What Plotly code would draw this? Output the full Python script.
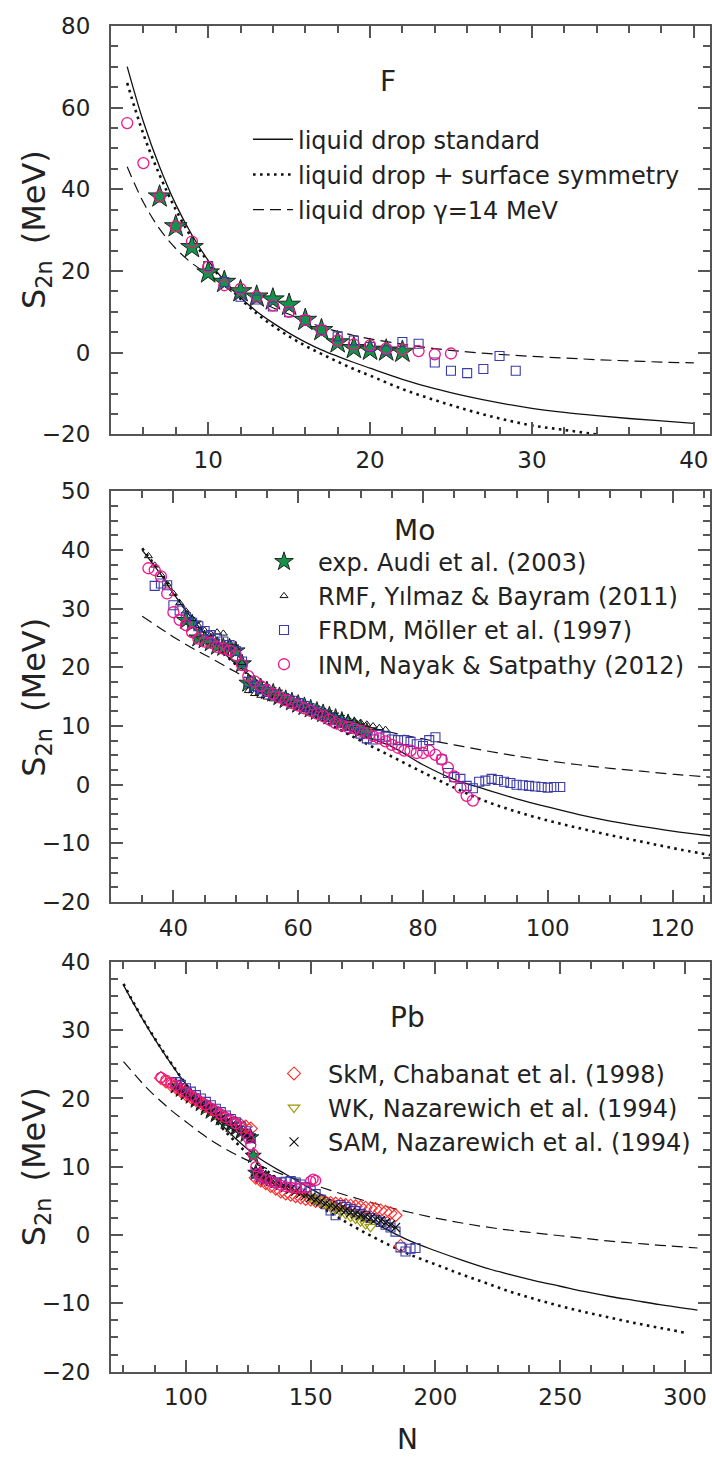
import plotly.graph_objects as go

# ---------------- data: panel F ----------------
F_N_line = [5, 6, 7, 8, 9, 10, 11, 12, 13, 14, 15, 16, 17, 18, 19, 20, 22, 24, 26, 28, 30, 32, 34, 36, 38, 40]
F_solid = [70, 56.5, 45.5, 36.3, 28.8, 22.6, 17.6, 13.5, 10.1, 7.3, 4.8, 2.6, 0.7, -0.9, -2.4, -3.8,
           -6.5, -8.8, -10.7, -12.3, -13.6, -14.6, -15.4, -16.1, -16.7, -17.3]
F_N_dot = [5, 6, 7, 8, 9, 10, 11, 12, 13, 14, 15, 16, 17, 18, 19, 20, 22, 24, 26, 28, 30, 32, 34]
F_dot = [66, 53.5, 43.5, 35, 28, 22.2, 17.3, 13.2, 9.6, 6.6, 4.0, 1.7, -0.3, -2.2, -4.0, -5.6,
         -8.9, -11.6, -14.0, -16.1, -17.8, -18.9, -20.0]
F_dash = [45.5, 36.8, 30.3, 25.5, 21.9, 19.2, 16.8, 14.7, 12.8, 11.0, 9.4, 7.8, 6.3, 5.2, 4.2, 3.4,
          2.1, 1.0, 0.2, -0.4, -0.9, -1.3, -1.7, -2.0, -2.3, -2.5]
F_exp_N = [7, 8, 9, 10, 11, 12, 13, 14, 15, 16, 17, 18, 19, 20, 21, 22]
F_exp = [38.2, 30.9, 25.8, 19.6, 17.3, 15.0, 13.7, 13.0, 11.7, 8.0, 5.5, 2.5, 1.1, 0.7, 0.5, 0.2]
F_frdm_N = [10, 11, 12, 13, 14, 15, 16, 17, 18, 19, 20, 21, 22, 23, 24, 25, 26, 27, 28, 29]
F_frdm = [21.2, 17.3, 13.7, 13.0, 11.3, 9.9, 8.0, 5.6, 4.0, 3.0, 1.4, 0.6, 2.6, 2.2, -2.4, -4.4, -5.0, -4.0, -0.8, -4.4]
F_inm_N = [5, 6, 7, 8, 9, 10, 11, 12, 13, 14, 15, 16, 17, 18, 19, 20, 21, 22, 23, 24, 25]
F_inm = [56.2, 46.4, 38.2, 30.9, 27.2, 21.0, 16.5, 15.6, 13.7, 11.6, 10.0, 8.0, 5.5, 3.0, 2.0, 1.8, 1.0, 0.8, 0.4, -0.4, -0.2]

# ---------------- data: panel Mo ----------------
Mo_N_line = [35, 38, 40, 43, 46, 50, 55, 60, 65, 70, 75, 80, 85, 90, 95, 100, 105, 110, 115, 120, 126]
Mo_solid = [40.0, 35.8, 32.6, 28.3, 24.6, 20.6, 16.4, 13.3, 10.8, 8.5, 6.5, 3.4, 0.9, -0.8, -2.4, -3.8,
            -5.1, -6.2, -7.1, -7.9, -8.7]
Mo_dot = [40.3, 36.0, 32.8, 28.4, 24.6, 20.5, 16.4, 13.1, 10.3, 7.5, 4.8, 2.1, -0.5, -2.8, -4.6, -6.1,
          -7.4, -8.6, -9.7, -10.8, -12.0]
Mo_dash = [28.7, 26.6, 25.2, 23.3, 21.6, 19.2, 16.3, 13.9, 11.9, 10.2, 8.9, 7.8, 6.8, 5.8, 4.9, 4.1,
           3.4, 2.8, 2.3, 1.8, 1.3]
Mo_exp_N = list(range(42, 72))
Mo_exp = [28.0, 27.4, 25.0, 24.7, 24.2, 23.6, 23.4, 23.3, 22.8, 20.6, 17.3, 17.0, 16.5, 16.0, 15.6,
          15.0, 14.5, 14.1, 13.7, 13.3, 12.9, 12.5, 12.1, 11.7, 11.3, 10.8, 10.4, 9.9, 9.4, 8.9]
Mo_rmf_N = list(range(36, 75))
Mo_rmf = [39.0, 37.4, 35.8, 34.2, 32.6, 31.0, 29.6, 28.3, 27.1, 26.3, 25.7, 26.0, 25.8, 24.2, 23.3,
          20.8, 16.0, 15.5, 15.2, 14.9, 14.6, 14.3, 14.0, 13.7, 13.4, 13.1, 12.8, 12.5, 12.2, 12.0,
          11.7, 11.4, 11.2, 10.9, 10.6, 10.3, 10.0, 9.7, 9.4]
Mo_frdm_N = list(range(37, 103))
Mo_frdm = [33.9, 34.3, 34.0, 30.6, 29.7, 28.6, 27.6, 27.0, 26.2, 25.5, 24.9, 24.4, 23.8, 22.8, 21.0,
           17.5, 16.8, 16.3, 15.8, 15.4, 15.0, 14.6, 14.3, 13.9, 13.4, 13.0, 12.5, 12.0, 11.5, 11.0,
           10.5, 10.0, 9.5, 8.7, 7.9, 7.7, 8.5, 8.2, 7.7, 7.6, 7.6, 7.3, 6.9, 6.6, 7.6, 8.1,
           4.3, 2.0, 1.3, 1.0, -0.2, -0.6, 0.5, 0.7, 1.0, 0.8, 0.5, 0.3, 0.0, -0.1, -0.2, -0.3,
           -0.4, -0.5, -0.4, -0.4]
Mo_inm_N = list(range(36, 89))
Mo_inm = [36.9, 36.6, 35.5, 32.6, 29.4, 28.1, 27.2, 26.0, 24.9, 24.4, 24.2, 23.5, 23.2, 22.9, 22.1,
          20.4, 18.5, 17.6, 16.8, 16.1, 15.5, 14.9, 14.4, 13.9, 13.5, 13.0, 12.6, 12.1, 11.7, 11.1,
          10.5, 10.1, 9.8, 9.6, 9.2, 8.8, 8.3, 7.9, 7.4, 6.8, 6.3, 5.8, 5.8, 5.4, 5.4, 5.8, 5.1,
          4.3, 2.9, 1.4, -0.5, -1.9, -2.7]

# ---------------- data: panel Pb ----------------
Pb_N_line = [75, 80, 85, 90, 95, 100, 105, 110, 115, 120, 125, 130, 140, 150, 160, 170, 180, 190, 200,
             210, 220, 230, 240, 250, 260, 270, 280, 290, 305]
Pb_solid = [36.6, 33.3, 30.2, 27.3, 24.6, 22.1, 19.9, 17.8, 15.9, 14.1, 12.5, 11.1, 8.9, 6.8, 4.8, 3.0,
            0.9, -0.9, -2.3, -3.6, -4.8, -5.8, -6.7, -7.5, -8.3, -9.0, -9.6, -10.2, -11.0]
Pb_N_dot = [75, 80, 85, 90, 95, 100, 105, 110, 115, 120, 125, 130, 140, 150, 160, 170, 180, 190, 200,
            210, 220, 230, 240, 250, 260, 270, 280, 290, 300]
Pb_dot = [36.8, 33.4, 30.3, 27.4, 24.7, 22.1, 19.8, 17.6, 15.5, 13.6, 11.8, 10.1, 7.4, 5.0, 2.8, 0.7,
          -1.2, -2.9, -4.3, -5.7, -7.0, -8.3, -9.4, -10.4, -11.3, -12.1, -12.9, -13.6, -14.3]
Pb_dash = [25.4, 23.3, 21.3, 19.6, 18.0, 16.6, 15.2, 13.9, 12.8, 11.8, 10.9, 10.1, 8.7, 7.5, 6.3, 5.2,
           4.2, 3.3, 2.5, 1.8, 1.2, 0.7, 0.3, -0.1, -0.5, -0.9, -1.2, -1.5, -1.9]
Pb_exp_N = [96, 98, 100, 102, 104, 106, 108, 110, 112, 114, 116, 118, 120, 122, 124, 126, 127, 128, 130, 132]
Pb_exp = [21.8, 21.3, 20.8, 20.3, 19.7, 19.2, 18.6, 18.1, 17.6, 17.1, 16.6, 16.1, 15.6, 15.1, 14.7,
          14.3, 11.6, 9.1, 8.6, 8.3]
Pb_rmf_N = [100, 104, 108, 112, 116, 120, 124, 126, 128, 132, 136, 140]
Pb_rmf = [21.4, 20.1, 19.0, 17.8, 16.7, 15.6, 14.6, 14.0, 9.5, 8.6, 7.9, 7.3]
Pb_frdm_N = [96, 98, 100, 102, 104, 106, 108, 110, 112, 114, 116, 118, 120, 122, 124, 126, 128, 130,
             132, 134, 136, 138, 140, 142, 144, 146, 148, 150, 152, 154, 156, 158, 160, 162, 164, 166,
             168, 170, 172, 174, 176, 178, 180, 182, 184, 186, 188, 190, 192]
Pb_frdm = [22.4, 22.0, 21.5, 21.0, 20.5, 20.0, 19.5, 19.0, 18.5, 18.0, 17.5, 17.0, 16.5, 15.9, 15.2,
           14.2, 9.0, 8.5, 8.2, 7.9, 7.7, 7.7, 7.8, 7.9, 7.7, 7.4, 7.0, 6.5, 6.0, 5.2, 4.5, 3.6, 2.9,
           4.4, 4.1, 3.8, 3.5, 3.1, 2.8, 2.5, 2.2, 1.9, 1.5, 1.1, 0.5, -1.8, -2.4, -2.0, -1.9]
Pb_inm_N = [90, 92, 94, 96, 98, 100, 102, 104, 106, 108, 110, 112, 114, 116, 118, 120, 122, 124, 125,
            126, 127, 128, 129, 130, 132, 134, 136, 138, 140, 142, 144, 146, 148, 150, 151, 152]
Pb_inm = [23.1, 22.7, 22.3, 21.9, 21.4, 20.9, 20.4, 20.0, 19.5, 19.1, 18.6, 18.2, 17.7, 17.2, 16.8,
          16.3, 15.7, 14.9, 14.2, 13.2, 11.8, 10.0, 9.0, 8.5, 8.2, 7.9, 7.6, 7.3, 7.1, 7.0, 6.9, 6.9,
          6.9, 7.9, 8.2, 8.0]
Pb_skm_N = [90, 92, 94, 96, 98, 100, 102, 104, 106, 108, 110, 112, 114, 116, 118, 120, 122, 124, 126,
            128, 130, 132, 134, 136, 138, 140, 142, 144, 146, 148, 150, 152, 154, 156, 158, 160, 162,
            164, 166, 168, 170, 172, 174, 176, 178, 180, 182, 184, 186]
Pb_skm = [23.0, 22.5, 22.0, 21.6, 21.1, 20.6, 20.2, 19.8, 19.3, 18.9, 18.5, 18.0, 17.6, 17.2, 16.8,
          16.4, 16.1, 15.9, 15.6, 8.4, 8.0, 7.6, 7.2, 6.8, 6.4, 6.1, 5.9, 5.7, 5.5, 5.3, 5.2, 5.0,
          4.9, 4.8, 4.7, 4.6, 4.5, 4.4, 4.3, 4.2, 4.1, 4.0, 3.9, 3.8, 3.6, 3.4, 3.2, 2.9, -1.6]
Pb_wk_N = [150, 152, 154, 156, 158, 160, 162, 164, 166, 168, 170, 172, 174]
Pb_wk = [5.6, 5.2, 4.9, 4.5, 4.1, 3.8, 3.4, 3.1, 2.7, 2.4, 2.0, 1.6, 1.2]
Pb_sam_N = [96, 98, 100, 102, 104, 106, 108, 110, 112, 114, 116, 118, 120, 122, 124, 126, 128, 130,
            132, 134, 136, 138, 140, 142, 144, 146, 148, 150, 152, 154, 156, 158, 160, 162, 164, 166,
            168, 170, 172, 174, 176, 178, 180, 182, 184]
Pb_sam = [21.6, 21.1, 20.6, 20.1, 19.6, 19.1, 18.6, 18.0, 17.5, 17.0, 16.5, 16.0, 15.5, 15.0, 14.6,
          14.1, 9.3, 8.7, 8.3, 7.9, 7.6, 7.3, 7.0, 6.7, 6.4, 6.1, 5.8, 5.5, 5.2, 4.9, 4.6, 4.3, 4.1,
          3.8, 3.6, 3.3, 3.1, 2.9, 2.7, 2.5, 2.3, 2.1, 1.8, 1.5, 1.1]

# ---------------- labels ----------------
line_names = ["liquid drop standard", "liquid drop + surface symmetry", "liquid drop \u03b3=14 MeV"]
model_names = ["exp. Audi et al. (2003)", "RMF, Y\u0131lmaz & Bayram (2011)",
               "FRDM, M\u00f6ller et al. (1997)", "INM, Nayak & Satpathy (2012)"]
pb_names = ["SkM, Chabanat et al. (1998)", "WK, Nazarewich et al. (1994)",
            "SAM, Nazarewich et al. (1994)"]
panel_labels = ["F", "Mo", "Pb"]

FONT = "DejaVu Sans"
GREEN = "#13934a"
BLUE = "#3a3aa8"
MAGENTA = "#f0168c"
RED = "#ff2a2a"
OLIVE = "#9c9600"

fig = go.Figure()


def add_lines(xs, ys_solid, xdot, ys_dot, ys_dash, ax, show):
    xa = "x" if ax == 1 else f"x{ax}"
    ya = "y" if ax == 1 else f"y{ax}"
    common = dict(mode="lines", xaxis=xa, yaxis=ya, line_shape="spline", hoverinfo="skip")
    fig.add_trace(go.Scatter(x=xs, y=ys_solid, name=line_names[0], legendgroup="ld1", showlegend=show,
                             legend="legend", line=dict(color="#111", width=1.3), **common))
    fig.add_trace(go.Scatter(x=xdot, y=ys_dot, name=line_names[1], legendgroup="ld2", showlegend=show,
                             legend="legend", line=dict(color="#111", width=2.6, dash="2.6px,4.4px"), **common))
    fig.add_trace(go.Scatter(x=xs, y=ys_dash, name=line_names[2], legendgroup="ld3", showlegend=show,
                             legend="legend", line=dict(color="#111", width=1.2, dash="11px,6px"), **common))


def add_markers(x, y, ax, name, symbol, size, color, fill=None, lw=1.1, show=False, leg="legend2", group=None, rank=None):
    xa = "x" if ax == 1 else f"x{ax}"
    ya = "y" if ax == 1 else f"y{ax}"
    mk = dict(symbol=symbol, size=size, color=fill if fill else color,
              line=dict(color=color, width=lw))
    kw = {}
    if rank is not None:
        kw["legendrank"] = rank
    fig.add_trace(go.Scatter(x=x, y=y, mode="markers", xaxis=xa, yaxis=ya, name=name,
                             marker=mk, showlegend=show, legend=leg, legendgroup=group, **kw))


# panel 1: F
add_lines(F_N_line, F_solid, F_N_dot, F_dot, F_dash, 1, True)
add_markers(F_exp_N, F_exp, 1, model_names[0], "star", 17, "#222", fill=GREEN, lw=1, group="m1")
add_markers(F_frdm_N, F_frdm, 1, model_names[2], "square-open", 9, BLUE, group="m3")
add_markers(F_inm_N, F_inm, 1, model_names[3], "circle-open", 11, MAGENTA, lw=1.3, group="m4")

# panel 2: Mo
add_lines(Mo_N_line, Mo_solid, Mo_N_line, Mo_dot, Mo_dash, 2, False)
add_markers(Mo_exp_N, Mo_exp, 2, model_names[0], "star", 14, "#222", fill=GREEN, lw=1, show=True, group="m1", rank=1)
add_markers(Mo_rmf_N, Mo_rmf, 2, model_names[1], "triangle-up-open", 7, "#111", lw=1, show=True, group="m2", rank=2)
add_markers(Mo_frdm_N, Mo_frdm, 2, model_names[2], "square-open", 9, BLUE, show=True, group="m3", rank=3)
add_markers(Mo_inm_N, Mo_inm, 2, model_names[3], "circle-open", 11, MAGENTA, lw=1.3, show=True, group="m4", rank=4)

# panel 3: Pb
add_lines(Pb_N_line, Pb_solid, Pb_N_dot, Pb_dot, Pb_dash, 3, False)
add_markers(Pb_exp_N, Pb_exp, 3, model_names[0], "star", 12, "#222", fill=GREEN, lw=1, group="m1")
add_markers(Pb_rmf_N, Pb_rmf, 3, model_names[1], "triangle-up-open", 7, "#111", lw=1, group="m2")
add_markers(Pb_skm_N, Pb_skm, 3, pb_names[0], "diamond-open", 10, RED, show=True, leg="legend3", group="p1", rank=1)
add_markers(Pb_frdm_N, Pb_frdm, 3, model_names[2], "square-open", 9, BLUE, group="m3")
add_markers(Pb_wk_N, Pb_wk, 3, pb_names[1], "triangle-down-open", 10, OLIVE, show=True, leg="legend3", group="p2", rank=2)
add_markers(Pb_sam_N, Pb_sam, 3, pb_names[2], "x-thin-open", 9, "#111", lw=1.2, show=True, leg="legend3", group="p3", rank=3)
add_markers(Pb_inm_N, Pb_inm, 3, model_names[3], "circle-open", 10, MAGENTA, lw=1.3, group="m4")

W, H = 712, 1473
xdom = [111 / W, 710 / W]
ydoms = [[1 - 429 / H, 1 - 13 / H], [1 - 905 / H, 1 - 487 / H], [1 - 1383 / H, 1 - 966 / H]]
xranges = [[4, 41], [30, 126], [70, 310]]
xdt = [10, 20, 50]
xminor = [2, 5, 12.5]
yranges = [[-20, 80], [-20, 50], [-20, 40]]
ydt = [20, 10, 10]
yminor = [5, 2.5, 2.5]

AX = "#555"
tickfont = dict(family=FONT, size=23, color="#222")
layout = dict(width=W, height=H, margin=dict(l=0, r=0, t=0, b=0), paper_bgcolor="white",
              plot_bgcolor="white", font=dict(family=FONT, color="#222"))
for i in range(3):
    sx = "" if i == 0 else str(i + 1)
    layout["xaxis" + sx] = dict(domain=xdom, range=xranges[i], anchor="y" + sx, tickmode="linear",
                                tick0=0, dtick=xdt[i], ticks="inside", ticklen=12, tickwidth=1.5,
                                tickcolor=AX, showline=True, linecolor=AX, linewidth=2, mirror="ticks",
                                showgrid=False, zeroline=False, tickfont=tickfont, ticklabelstandoff=4,
                                minor=dict(ticks="inside", ticklen=7, tick0=0, dtick=xminor[i],
                                           tickcolor=AX, tickwidth=1.5, showgrid=False))
    layout["yaxis" + sx] = dict(domain=ydoms[i], range=yranges[i], anchor="x" + sx, tickmode="linear",
                                tick0=0, dtick=ydt[i], ticks="inside", ticklen=12, tickwidth=1.5,
                                tickcolor=AX, showline=True, linecolor=AX, linewidth=2, mirror="ticks",
                                showgrid=False, zeroline=False, tickfont=tickfont, ticklabelstandoff=14,
                                minor=dict(ticks="inside", ticklen=7, tick0=0, dtick=yminor[i],
                                           tickcolor=AX, tickwidth=1.5, showgrid=False))

legfont = dict(family=FONT, size=24, color="#222")
layout["legend"] = dict(x=248 / W, y=1 - 106 / H, xanchor="left", yanchor="top", bgcolor="rgba(0,0,0,0)",
                        font=legfont, itemwidth=40, tracegroupgap=1, traceorder="grouped")
layout["legend2"] = dict(x=250 / W, y=1 - 536 / H, xanchor="left", yanchor="top", bgcolor="rgba(0,0,0,0)",
                         font=legfont, itemwidth=58, tracegroupgap=0, traceorder="grouped")
layout["legend3"] = dict(x=260 / W, y=1 - 1057 / H, xanchor="left", yanchor="top", bgcolor="rgba(0,0,0,0)",
                         font=legfont, itemwidth=58, tracegroupgap=0, traceorder="grouped")

annots = []
label_pos = [(388, 70), (415, 527), (408, 1023)]
for lab, (px, py) in zip(panel_labels, label_pos):
    annots.append(dict(text=lab, x=px / W, y=1 - py / H, xref="paper", yref="paper", showarrow=False,
                       font=dict(family=FONT, size=28, color="#222"), xanchor="center", yanchor="middle"))
for py in [221, 697, 1175]:
    annots.append(dict(text="S<sub>2n</sub>\u2002(MeV)", x=36 / W, y=1 - py / H, xref="paper", yref="paper",
                       showarrow=False, textangle=-90, font=dict(family=FONT, size=32, color="#222"),
                       xanchor="center", yanchor="middle"))
annots.append(dict(text="N", x=408 / W, y=1 - 1452 / H, xref="paper", yref="paper", showarrow=False,
                   font=dict(family=FONT, size=28, color="#222"), xanchor="center", yanchor="middle"))
layout["annotations"] = annots
fig.update_layout(**layout)

fig.write_html("out.html")
